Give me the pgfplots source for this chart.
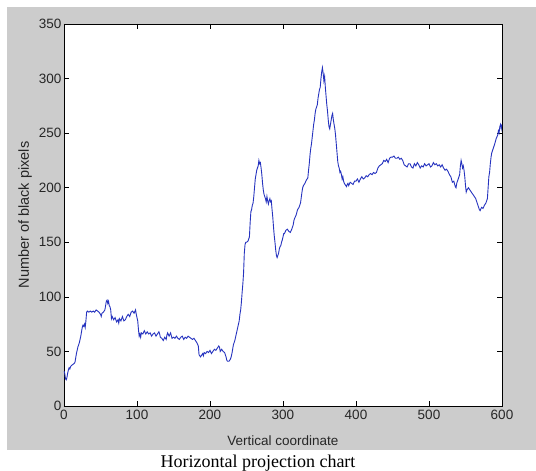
\documentclass[border=0pt]{standalone}
\usepackage{fontspec}
\setmainfont{Liberation Serif}
\newfontfamily\arialfont{Liberation Sans}
\usepackage{pgfplots}
\pgfplotsset{compat=1.18}
\usepackage{pgfplotstable}
\definecolor{figgray}{RGB}{204,204,204}
\definecolor{lineblue}{rgb}{0.15,0.2,0.75}
\pgfplotstableread{
x y
0 32
1 30
2 25
3 24
4 26
5 30
6 33
7 35
8 34
9 36
10 37
12 38
14 39
15 40
17 48
19 54
21 58
23 64
24 68
25 72
26 74
27 73
28 75
29 72
30 78
31 86
32 87
34 86
36 87
38 86
40 87
42 86
44 88
46 87
48 86
50 84
51 82
52 85
54 86
56 88
57 92
58 96
59 97
60 94
61 96
62 92
63 91
64 88
65 80
66 82
68 79
70 81
72 77
74 79
75 76
76 80
78 78
80 82
82 78
84 79
86 82
88 84
90 82
92 86
94 87
96 85
98 88
99 84
100 81
101 78
102 70
103 64
104 66
105 63
106 67
108 66
110 69
112 66
114 68
116 66
118 67
120 64
122 66
124 67
126 64
128 66
130 68
131 66
132 63
134 62
136 60
138 63
140 61
141 65
142 67
144 64
146 67
148 62
150 63
152 62
154 64
156 62
158 61
160 63
162 64
164 61
166 63
168 62
170 64
172 63
174 62
176 61
178 62
180 60
182 58
184 55
185 47
186 46
187 45
188 46
190 48
191 46
192 49
194 48
196 50
198 49
200 51
202 48
204 50
206 52
208 51
210 53
212 55
213 54
214 50
216 52
218 50
220 49
222 45
223 42
224 41
226 41
228 43
229 45
230 48
232 56
234 60
236 66
238 72
240 78
241 84
242 88
243 95
244 104
245 112
246 122
247 140
248 148
249 150
250 150
252 151
254 155
255 168
256 178
257 180
258 184
259 186
260 192
261 200
262 208
263 212
264 216
265 218
266 220
267 225
268 222
269 223
270 218
271 212
272 204
273 198
274 194
275 192
276 190
277 187
278 192
279 188
280 185
281 188
282 190
283 187
284 188
285 180
286 173
287 164
288 156
289 150
290 143
291 138
292 136
293 138
294 140
295 144
296 146
297 147
298 150
299 152
300 155
301 158
302 158
304 161
306 162
308 160
310 159
312 162
314 166
315 170
316 172
318 175
320 180
322 182
324 186
326 196
327 200
328 202
330 204
332 207
333 208
334 209
335 216
336 222
337 230
338 236
339 240
340 246
341 252
342 258
343 262
344 268
345 272
346 274
347 276
348 282
349 286
350 290
351 292
352 300
353 306
354 310
355 305
356 298
357 302
358 292
359 284
360 276
361 270
362 262
363 256
364 254
365 258
366 262
367 266
368 268
369 262
370 258
371 254
372 248
373 240
374 232
375 224
376 220
377 218
378 214
379 215
380 212
381 208
382 210
383 206
384 204
385 203
386 202
387 201
388 203
389 204
390 202
392 205
394 204
396 203
398 206
400 206
402 208
404 205
406 208
408 210
410 208
412 209
414 211
416 210
418 212
420 213
422 212
424 214
426 213
428 214
430 218
432 220
434 221
436 222
438 225
440 224
442 226
444 223
446 227
448 228
450 228
452 229
454 227
456 227
458 228
460 226
462 227
464 225
466 221
468 220
470 219
472 222
474 222
476 219
478 218
480 222
482 220
484 223
486 221
488 218
490 220
492 219
494 222
496 220
498 221
500 222
502 219
504 220
506 223
508 221
510 222
512 220
514 221
516 219
518 221
520 218
522 216
524 217
526 215
528 212
530 210
532 205
534 206
536 201
537 200
538 204
540 208
542 212
543 220
544 225
545 222
546 218
547 220
548 216
549 210
550 202
551 196
552 198
554 200
556 198
558 196
560 194
562 192
564 190
566 186
568 182
569 180
570 179
572 182
574 181
576 184
578 186
580 190
581 200
582 210
583 214
584 222
585 228
586 232
588 236
590 240
592 245
594 248
595 252
596 250
597 256
598 258
599 254
600 258
}\datatable
\begin{document}
\begin{tikzpicture}
\fill[white] (0pt,0pt) rectangle (536pt,471pt);
\path[use as bounding box] (0pt,0pt) rectangle (536pt,471pt);
\fill[figgray] (7pt,21pt) rectangle (536pt,464pt);
\begin{axis}[
  at={(64pt,65pt)}, anchor=south west,
  scale only axis, width=438pt, height=382pt,
  xmin=0, xmax=600, ymin=0, ymax=350,
  xtick={0,100,...,600}, ytick={0,50,...,350},
  tick align=inside, xtick pos=both, ytick pos=both,
  major tick length=5pt,
  axis background/.style={fill=white},
  axis line style={black, line width=0.8pt},
  tick style={black, line width=0.6pt},
  /pgf/number format/assume math mode=true,
  ticklabel style={font=\arialfont\fontsize{13.5}{14}\selectfont, text=black!85},
  xticklabel style={yshift=-1pt},
  yticklabel style={xshift=1pt},
  xlabel={Vertical coordinate},
  ylabel={Number of black pixels},
  xlabel style={at={(axis description cs:0.5,-0.0916)}, anchor=center, font=\arialfont\fontsize{13.5}{14}\selectfont, text=black!85},
  ylabel style={at={(axis description cs:-0.089,0.5)}, anchor=center, font=\arialfont\fontsize{14.5}{15}\selectfont, text=black!85},
]
\addplot[lineblue, line width=0.9pt, no marks] table[x=x, y=y] {\datatable};
\end{axis}
\node[anchor=base, font=\fontsize{18}{20}\selectfont] at (258pt,3pt) {Horizontal projection chart};
\end{tikzpicture}
\end{document}
